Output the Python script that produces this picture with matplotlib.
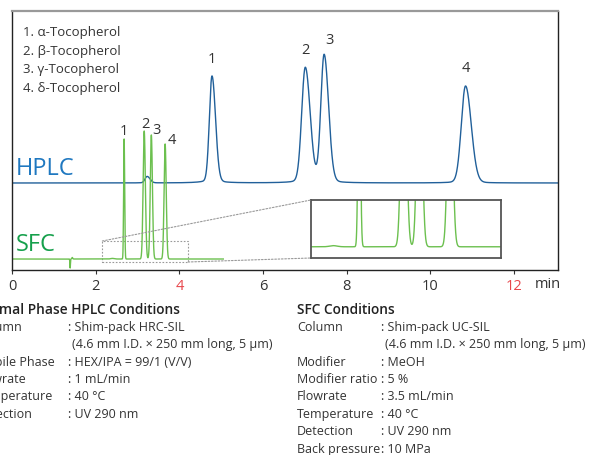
import numpy as np
import matplotlib.pyplot as plt
from matplotlib.patches import Rectangle, ConnectionPatch

plt.rcParams['font.family'] = ['Open Sans', 'DejaVu Sans']

# peak tables (time in min, height in px above baseline)
hplc_times = [3.23, 4.78, 7.01, 7.46, 10.84]
hplc_heights = [6.5, 107, 115, 128, 97]
hplc_sigmas = [0.05, 0.062, 0.085, 0.078, 0.10]
hplc_labels = ['', '1', '2', '3', '4']

sfc_times = [1.39, 1.44, 2.40, 2.68, 3.16, 3.33, 3.66]
sfc_heights = [-9, 1.5, 0.6, 120, 128, 124, 115]
sfc_sigmas = [0.006, 0.01, 0.04, 0.012, 0.026, 0.025, 0.025]
sfc_labels = ['', '', '', '1', '2', '3', '4']

compounds = ['α-Tocopherol', 'β-Tocopherol', 'γ-Tocopherol', 'δ-Tocopherol']
xticks = [0, 2, 4, 6, 8, 10, 12]
red_ticks = [4, 12]

hplc_base = 87
sfc_base = 11
sfc_end = 5.05
zoom_x = (2.16, 4.21)
zoom_y = (-3, 18)

hplc_cond = [('Normal Phase HPLC Conditions', ''),
             ('Column', 'Shim-pack HRC-SIL'),
             ('', '(4.6 mm I.D. × 250 mm long, 5 µm)'),
             ('Mobile Phase', 'HEX/IPA = 99/1 (V/V)'),
             ('Flowrate', '1 mL/min'),
             ('Temperature', '40 °C'),
             ('Detection', 'UV 290 nm')]
sfc_cond = [('SFC Conditions', ''),
            ('Column', 'Shim-pack UC-SIL'),
            ('', '(4.6 mm I.D. × 250 mm long, 5 µm)'),
            ('Modifier', 'MeOH'),
            ('Modifier ratio', '5 %'),
            ('Flowrate', '3.5 mL/min'),
            ('Temperature', '40 °C'),
            ('Detection', 'UV 290 nm'),
            ('Back pressure', '10 MPa')]


def trace(t, times, heights, sigmas, lor=0.0, tail=1.35):
    y = np.zeros_like(t)
    for t0, h, s in zip(times, heights, sigmas):
        s2 = np.where(t < t0, s, s * tail)
        y += h * (1 - lor) * np.exp(-0.5 * ((t - t0) / s2) ** 2)
        y += h * lor / (1 + ((t - t0) / 0.22) ** 2)
    return y


t_h = np.linspace(0, 13.05, 8000)
t_s = np.linspace(0, sfc_end, 8000)
y_h = trace(t_h, hplc_times, hplc_heights, hplc_sigmas, lor=0.03)
y_s = trace(t_s, sfc_times, sfc_heights, sfc_sigmas, tail=1.05)

fig = plt.figure(figsize=(5.95, 4.56), dpi=100)
ax = fig.add_axes([12 / 595, 1 - 271 / 456, 546 / 595, 259 / 456])

hcol = '#21609a'
scol = '#6cc04f'
ax.plot(t_h, hplc_base + y_h, color=hcol, lw=1.0)
ax.plot(t_s, sfc_base + y_s, color=scol, lw=1.0)

for t0, h, lab, dx, dy in zip(hplc_times, hplc_heights, hplc_labels,
                              [0, 0, 0, 5, 0], [0, 10, 11, 8, 11]):
    if lab:
        ax.annotate(lab, (t0, hplc_base + h), xytext=(dx, dy), textcoords='offset pixels',
                    ha='center', va='bottom', fontsize=10.5, color='#333333')
for t0, h, lab, dx, dy in zip(sfc_times, sfc_heights, sfc_labels,
                              [0, 0, 0, 0, 1, 5, 7], [0, 0, 0, 1, 0, -2, -3]):
    if lab:
        ax.annotate(lab, (t0, sfc_base + h), xytext=(dx, dy), textcoords='offset pixels',
                    ha='center', va='bottom', fontsize=10.5, color='#333333')

ax.text(0.1, hplc_base + 3, 'HPLC', fontsize=17, color='#1f78c0', va='bottom')
ax.text(0.1, sfc_base + 3, 'SFC', fontsize=17, color='#16a04c', va='bottom')

for i, name in enumerate(compounds):
    ax.text(0.27, 238 - i * 18.4, f'{i + 1}. {name}', fontsize=9.5, color='#333333', va='center')

ax.add_patch(Rectangle((zoom_x[0], sfc_base + zoom_y[0]), zoom_x[1] - zoom_x[0],
                       zoom_y[1] - zoom_y[0], fill=False, ec='#999999', lw=0.8,
                       ls=(0, (1.5, 1.5))))

ax.set_xlim(0, 13.05)
ax.set_ylim(0, 259)
ax.set_yticks([])
ax.set_xticks(xticks)
ax.set_xticklabels([str(v) for v in xticks])
for lbl, v in zip(ax.get_xticklabels(), xticks):
    lbl.set_color('#e8474c' if v in red_ticks else '#333333')
ax.tick_params(axis='x', direction='out', length=3, width=0.8, color='#333333',
               labelsize=10.5, pad=3)
for side in ['left', 'right', 'bottom']:
    ax.spines[side].set_color('#222222')
    ax.spines[side].set_linewidth(1.0)
ax.spines['top'].set_color('#999999')
ax.spines['top'].set_linewidth(1.6)
fig.text(548 / 595, 1 - 284 / 456, 'min', fontsize=10.5, color='#333333', ha='center', va='center')

# zoomed view of the SFC baseline
axins = fig.add_axes([311 / 595, 1 - 259 / 456, 190 / 595, 58 / 456])
axins.plot(t_s, y_s, color=scol, lw=1.0)
axins.set_xlim(*zoom_x)
axins.set_ylim(-6, 25)
axins.set_xticks([])
axins.set_yticks([])
for sp in axins.spines.values():
    sp.set_color('#555555')
    sp.set_linewidth(1.3)

for xa, ya, xb, yb in [(zoom_x[0], zoom_y[1], 0, 1), (zoom_x[1], zoom_y[0], 0, 0)]:
    cp = ConnectionPatch((xa, sfc_base + ya), (xb, yb), coordsA='data', coordsB='axes fraction',
                         axesA=ax, axesB=axins, color='#999999', lw=0.8, ls=(0, (1.5, 1.5)))
    fig.add_artist(cp)

# condition tables (the HPLC block runs off the left edge, as in the source figure)
fs = 9.0
for rows, xh, x0, xc in [(hplc_cond, -26, -24, 68), (sfc_cond, 297, 297, 381)]:
    for i, (lab, val) in enumerate(rows):
        y = 1 - (310 + i * 17.4) / 456
        if i == 0:
            fig.text(xh / 595, y, lab, fontsize=9.9, color='#222222', weight='semibold', va='center')
            continue
        fig.text(x0 / 595, y, lab, fontsize=fs, color='#333333', va='center')
        if lab:
            fig.text(xc / 595, y, ': ' + val, fontsize=fs, color='#333333', va='center')
        else:
            fig.text((xc + 4) / 595, y, val, fontsize=fs, color='#333333', va='center')

fig.savefig('out.png', dpi=100)
